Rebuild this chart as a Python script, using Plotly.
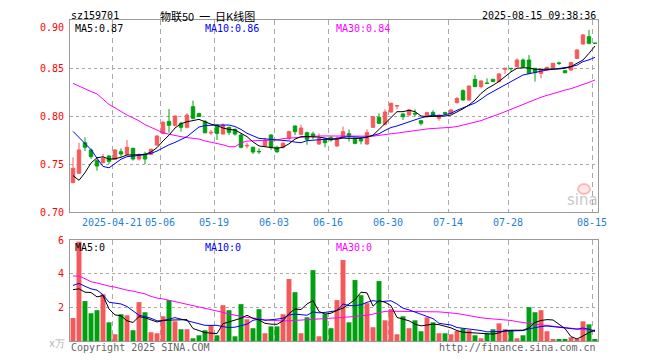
import pandas as pd
import plotly.graph_objects as go

# ---------------- data ----------------
holidays = ["2025-05-01", "2025-05-02", "2025-05-05", "2025-06-02"]
dates = [d.strftime("%Y-%m-%d") for d in pd.bdate_range("2025-04-10", "2025-08-15")
         if d.strftime("%Y-%m-%d") not in holidays]

open_ = [0.7306, 0.7403, 0.7722, 0.7646, 0.7535, 0.7514, 0.7583, 0.7549, 0.7628, 0.7601,
         0.7663, 0.7552, 0.7604, 0.7601, 0.7698, 0.7819, 0.7944, 0.7903, 0.7924, 0.7882,
         0.8097, 0.8025, 0.7944, 0.7823, 0.7906, 0.7812, 0.7882, 0.7861, 0.7802, 0.7688,
         0.7674, 0.7632, 0.7688, 0.7802, 0.7674, 0.7674, 0.7767, 0.7896, 0.7809, 0.7826,
         0.7813, 0.7708, 0.7760, 0.7774, 0.7688, 0.7778, 0.7816, 0.7767, 0.7757, 0.7708,
         0.7882, 0.7986, 0.7913, 0.8042, 0.8104, 0.8021, 0.8010, 0.8028, 0.7951, 0.7993,
         0.8038, 0.7976, 0.8035, 0.8028, 0.8139, 0.8264, 0.8167, 0.8382, 0.8306, 0.8342,
         0.8382, 0.8358, 0.8486, 0.8497, 0.8514, 0.8583, 0.8583, 0.8497, 0.8444, 0.8479,
         0.8497, 0.8552, 0.8472, 0.8479, 0.8600, 0.8750, 0.8826, 0.8758]
high = [0.7570, 0.7722, 0.7778, 0.7660, 0.7560, 0.7604, 0.7594, 0.7653, 0.7663, 0.7750,
        0.7670, 0.7610, 0.7628, 0.7660, 0.7799, 0.7951, 0.8073, 0.8003, 0.7940, 0.8030,
        0.8160, 0.8035, 0.7958, 0.7854, 0.7910, 0.7924, 0.7890, 0.7868, 0.7820, 0.7722,
        0.7680, 0.7663, 0.7774, 0.7810, 0.7690, 0.7733, 0.7847, 0.7900, 0.7910, 0.7837,
        0.7837, 0.7819, 0.7770, 0.7792, 0.7785, 0.7889, 0.7860, 0.7774, 0.7780, 0.7861,
        0.8000, 0.8028, 0.8070, 0.8140, 0.8108, 0.8028, 0.8070, 0.8069, 0.7955, 0.8045,
        0.8060, 0.8014, 0.8045, 0.8070, 0.8195, 0.8278, 0.8313, 0.8427, 0.8370, 0.8392,
        0.8385, 0.8445, 0.8497, 0.8497, 0.8600, 0.8600, 0.8635, 0.8500, 0.8490, 0.8510,
        0.8553, 0.8566, 0.8479, 0.8560, 0.8694, 0.8854, 0.8896, 0.8758]
low = [0.7300, 0.7399, 0.7635, 0.7555, 0.7431, 0.7507, 0.7500, 0.7542, 0.7576, 0.7594,
       0.7535, 0.7535, 0.7500, 0.7594, 0.7690, 0.7810, 0.7826, 0.7890, 0.7837, 0.7870,
       0.7965, 0.7990, 0.7819, 0.7802, 0.7750, 0.7810, 0.7800, 0.7795, 0.7663, 0.7663,
       0.7604, 0.7604, 0.7680, 0.7646, 0.7615, 0.7660, 0.7750, 0.7800, 0.7800, 0.7700,
       0.7757, 0.7700, 0.7674, 0.7733, 0.7680, 0.7770, 0.7733, 0.7705, 0.7705, 0.7700,
       0.7875, 0.7917, 0.7900, 0.8035, 0.8069, 0.7958, 0.8003, 0.7993, 0.7900, 0.7986,
       0.7993, 0.7951, 0.8021, 0.8021, 0.8130, 0.8160, 0.8160, 0.8300, 0.8288, 0.8340,
       0.8355, 0.8355, 0.8438, 0.8462, 0.8510, 0.8510, 0.8440, 0.8358, 0.8392, 0.8475,
       0.8490, 0.8531, 0.8444, 0.8469, 0.8595, 0.8745, 0.8747, 0.8757]
close = [0.7455, 0.7646, 0.7674, 0.7576, 0.7479, 0.7559, 0.7528, 0.7646, 0.7604, 0.7674,
         0.7552, 0.7594, 0.7552, 0.7653, 0.7792, 0.7934, 0.7903, 0.8000, 0.7882, 0.8010,
         0.7976, 0.7995, 0.7826, 0.7830, 0.7819, 0.7906, 0.7830, 0.7812, 0.7674, 0.7694,
         0.7625, 0.7628, 0.7750, 0.7674, 0.7628, 0.7715, 0.7837, 0.7837, 0.7875, 0.7757,
         0.7785, 0.7767, 0.7722, 0.7750, 0.7767, 0.7837, 0.7795, 0.7715, 0.7740, 0.7826,
         0.7993, 0.7924, 0.8042, 0.8132, 0.8108, 0.7993, 0.8063, 0.8021, 0.7924, 0.8035,
         0.8000, 0.8010, 0.8028, 0.8063, 0.8184, 0.8167, 0.8313, 0.8306, 0.8365, 0.8340,
         0.8358, 0.8438, 0.8497, 0.8494, 0.8583, 0.8514, 0.8444, 0.8451, 0.8486, 0.8507,
         0.8549, 0.8549, 0.8451, 0.8556, 0.8688, 0.8844, 0.8757, 0.8757]
volume = [1.37, 5.90, 2.37, 1.65, 1.83, 2.78, 1.11, 0.40, 1.59, 1.53,
          0.64, 2.31, 1.71, 0.52, 0.46, 1.47, 2.43, 1.17, 0.70, 0.70,
          0.16, 0.34, 0.64, 0.93, 0.34, 2.13, 1.83, 0.28, 2.19, 1.29,
          0.76, 1.89, 0.46, 0.87, 0.87, 1.59, 3.68, 2.90, 0.46, 1.41,
          4.21, 0.28, 1.59, 0.76, 2.43, 4.81, 1.11, 3.62, 2.72, 2.25,
          0.82, 3.56, 1.23, 1.89, 0.40, 1.47, 0.76, 1.23, 0.58, 1.41,
          1.11, 0.46, 0.46, 0.40, 0.60, 0.74, 0.64, 0.34, 0.16, 0.44,
          0.70, 1.05, 0.70, 0.64, 0.16, 0.34, 2.01, 1.71, 1.83, 0.58,
          0.10, 0.10, 0.10, 0.22, 0.10, 1.17, 0.99, 0.10]

ma5 = [0.738, 0.733, 0.741, 0.751, 0.7565, 0.7575, 0.755, 0.7555, 0.757, 0.7594,
       0.7594, 0.7594, 0.760, 0.7625, 0.767, 0.774, 0.780, 0.7875, 0.792, 0.794,
       0.7955, 0.7965, 0.794, 0.7915, 0.790, 0.7875, 0.786, 0.7854, 0.782, 0.7785,
       0.773, 0.7688, 0.768, 0.767, 0.7663, 0.7675, 0.771, 0.776, 0.7785, 0.7785,
       0.7785, 0.778, 0.777, 0.7757, 0.776, 0.777, 0.7767, 0.777, 0.7767, 0.778,
       0.780, 0.786, 0.792, 0.7985, 0.8045, 0.8045, 0.806, 0.8045, 0.800, 0.7993,
       0.7993, 0.7993, 0.800, 0.801, 0.804, 0.8075, 0.8115, 0.8165, 0.8235, 0.8285,
       0.832, 0.836, 0.841, 0.846, 0.8497, 0.8503, 0.850, 0.8486, 0.8486, 0.8486,
       0.8486, 0.849, 0.8497, 0.8514, 0.855, 0.8583, 0.8653, 0.8729]
ma10 = [0.784, 0.778, 0.772, 0.765, 0.756, 0.7475, 0.746, 0.751, 0.755, 0.7576,
        0.758, 0.759, 0.7598, 0.761, 0.7635, 0.767, 0.770, 0.7725, 0.7755, 0.7785,
        0.7835, 0.7885, 0.790, 0.7906, 0.7906, 0.7906, 0.7906, 0.789, 0.786, 0.782,
        0.779, 0.7767, 0.7762, 0.7757, 0.775, 0.7745, 0.774, 0.7728, 0.7722, 0.7743,
        0.775, 0.7755, 0.7757, 0.7757, 0.777, 0.778, 0.7785, 0.778, 0.7778, 0.778,
        0.780, 0.7815, 0.785, 0.788, 0.7896, 0.792, 0.794, 0.796, 0.798, 0.7995,
        0.801, 0.800, 0.8017, 0.8028, 0.806, 0.8085, 0.811, 0.8135, 0.8175, 0.822,
        0.8255, 0.829, 0.8325, 0.836, 0.840, 0.8427, 0.844, 0.8455, 0.847, 0.848,
        0.8486, 0.8495, 0.850, 0.8514, 0.853, 0.8566, 0.8585, 0.8611]
ma30 = [0.834, 0.831, 0.828, 0.8255, 0.823, 0.8175, 0.812, 0.8085, 0.8045, 0.801,
        0.798, 0.795, 0.791, 0.788, 0.785, 0.7825, 0.781, 0.7795, 0.7785, 0.7775,
        0.7767, 0.776, 0.774, 0.7728, 0.7715, 0.770, 0.768, 0.768, 0.772, 0.7738,
        0.7742, 0.7743, 0.7743, 0.7745, 0.775, 0.7765, 0.777, 0.7775, 0.778, 0.7785,
        0.7792, 0.7792, 0.7792, 0.7792, 0.7792, 0.7792, 0.7792, 0.7788, 0.7785, 0.7785,
        0.779, 0.7798, 0.781, 0.7815, 0.7822, 0.7832, 0.784, 0.7845, 0.7855, 0.7865,
        0.787, 0.7872, 0.7878, 0.7882, 0.789, 0.7905, 0.7918, 0.793, 0.7952, 0.7975,
        0.7995, 0.802, 0.8045, 0.807, 0.8095, 0.812, 0.8148, 0.8175, 0.8195, 0.8215,
        0.8235, 0.8255, 0.827, 0.8285, 0.8305, 0.8325, 0.835, 0.8375]

vma5 = [3.05, 3.1, 2.9, 2.88, 2.62, 2.7, 1.9, 1.55, 1.5, 1.2,
        1.1, 1.45, 1.38, 1.25, 1.13, 1.23, 1.23, 1.23, 1.25, 1.27,
        0.74, 0.6, 0.5, 0.47, 0.44, 1.03, 1.13, 1.22, 1.35, 1.53,
        1.35, 1.25, 1.05, 1.0, 0.99, 1.2, 1.63, 1.9, 1.87, 2.2,
        2.4, 1.75, 1.6, 1.65, 1.83, 1.95, 2.2, 2.45, 2.9, 2.86,
        2.07, 2.4, 2.3, 2.1, 1.4, 1.3, 1.2, 1.0, 0.9, 0.95,
        1.0, 0.97, 0.88, 0.78, 0.62, 0.52, 0.5, 0.48, 0.46, 0.42,
        0.41, 0.48, 0.62, 0.64, 0.64, 0.64, 0.78, 1.1, 1.22, 1.27,
        1.25, 1.0, 0.74, 0.26, 0.12, 0.3, 0.5, 0.64]
vma10 = [3.3, 3.42, 3.25, 3.1, 3.02, 2.75, 2.3, 2.23, 2.2, 2.05,
         1.8, 1.53, 1.45, 1.35, 1.2, 1.2, 1.3, 1.39, 1.3, 1.2,
         1.13, 1.0, 0.93, 0.93, 0.93, 0.85, 0.8, 0.82, 0.9, 1.0,
         1.23, 1.3, 1.23, 1.25, 1.3, 1.35, 1.55, 1.6, 1.55, 1.53,
         1.73, 1.67, 1.7, 1.75, 1.8, 2.2, 2.1, 2.1, 2.15, 2.3,
         2.4, 2.33, 2.37, 2.39, 2.2, 1.95, 1.85, 1.73, 1.6, 1.45,
         1.33, 1.05, 1.0, 0.95, 0.8, 0.76, 0.73, 0.7, 0.62, 0.54,
         0.55, 0.57, 0.58, 0.59, 0.6, 0.62, 0.72, 0.8, 0.86, 0.89,
         0.85, 0.82, 0.78, 0.72, 0.70, 0.77, 0.7, 0.56]
vma30 = [3.86, 3.86, 3.7, 3.52, 3.45, 3.35, 3.26, 3.2, 3.1, 3.02,
         2.96, 2.88, 2.8, 2.65, 2.55, 2.5, 2.42, 2.35, 2.28, 2.2,
         2.13, 2.06, 1.98, 1.9, 1.8, 1.7, 1.6, 1.52, 1.45, 1.4,
         1.36, 1.33, 1.25, 1.22, 1.2, 1.19, 1.2, 1.22, 1.24, 1.25,
         1.27, 1.28, 1.3, 1.33, 1.36, 1.4, 1.43, 1.46, 1.5, 1.53,
         1.6, 1.7, 1.76, 1.77, 1.77, 1.77, 1.77, 1.77, 1.76, 1.75,
         1.73, 1.73, 1.70, 1.68, 1.63, 1.57, 1.5, 1.43, 1.38, 1.34,
         1.32, 1.3, 1.27, 1.22, 1.15, 1.08, 1.05, 1.0, 0.96, 0.92,
         0.85, 0.8, 0.76, 0.72, 0.7, 0.68, 0.66, 0.64]

tick_dates = ["2025-04-21", "2025-05-06", "2025-05-19", "2025-06-03", "2025-06-16",
              "2025-06-30", "2025-07-14", "2025-07-28", "2025-08-15"]
tick_text = ["2025-04-21", "05-06", "05-19", "06-03", "06-16", "06-30", "07-14", "07-28", "08-15"]
price_ticks = [0.70, 0.75, 0.80, 0.85, 0.90]
vol_ticks = [2, 4, 6]

title_code = "sz159701"
title_name = "物联50\u00a0\u00a0一\u00a0\u00a0日K线图"
timestamp = "2025-08-15 09:38:36"

# ---------------- figure ----------------
UP = "#f55a5a"
DOWN = "#00a010"
MONO = "DejaVu Sans Mono"
PAGE_PAD = 8                      # default body margin of the html page
W, H = 660 - PAGE_PAD, 360 - PAGE_PAD
L, T = 70 - PAGE_PAD, 20 - PAGE_PAD
PW, PH = 528, 321
R, B = W - L - PW, H - T - PH
SX0, SY1 = 70, 20 + PH            # plot area in screenshot pixels

def px(xpix):
    return (xpix - SX0) / PW

def py(ypix):
    return (SY1 - ypix) / PH

idx = list(range(len(dates)))
tickvals = [dates.index(d) - 0.5 for d in tick_dates]
vol_colors = [UP if c > o else DOWN for o, c in zip(open_, close)]

fig = go.Figure()
fig.add_trace(go.Candlestick(
    x=idx, open=open_, high=high, low=low, close=close,
    increasing=dict(line=dict(color=UP, width=1), fillcolor=UP),
    decreasing=dict(line=dict(color=DOWN, width=1), fillcolor=DOWN),
    whiskerwidth=0, xaxis="x", yaxis="y", showlegend=False, hoverinfo="skip"))
for vals, col in [(ma30, "#ff00ff"), (ma10, "#0000ff"), (ma5, "#000000")]:
    fig.add_trace(go.Scatter(x=idx, y=vals, mode="lines", line=dict(color=col, width=1),
                             xaxis="x", yaxis="y", showlegend=False, hoverinfo="skip"))

fig.add_trace(go.Bar(x=idx, y=volume, marker=dict(color=vol_colors, line=dict(width=0)),
                     width=0.82, xaxis="x2", yaxis="y2", showlegend=False, hoverinfo="skip"))
for vals, col in [(vma30, "#ff00ff"), (vma10, "#0000ff"), (vma5, "#000000")]:
    fig.add_trace(go.Scatter(x=idx, y=vals, mode="lines", line=dict(color=col, width=1),
                             xaxis="x2", yaxis="y2", showlegend=False, hoverinfo="skip"))

price_top, price_bot = 20, 212
vol_top = 240

xcommon = dict(range=[-0.5, len(dates) - 0.5], tickmode="array", tickvals=tickvals,
               showgrid=True, gridcolor="#aaaaaa", griddash="5px,4px", gridwidth=1,
               showline=True, mirror=True, linecolor="#999999", linewidth=1,
               zeroline=False, fixedrange=True)

fig.update_layout(
    width=W, height=H,
    margin=dict(l=L, r=R, t=T, b=B, autoexpand=False),
    paper_bgcolor="white", plot_bgcolor="white",
    boxgap=0.18,
    showlegend=False,
    xaxis=dict(**xcommon, domain=[0, 1], anchor="y", ticktext=tick_text,
               tickfont=dict(family=MONO, size=10, color="#1f7fd6"),
               ticks="outside", ticklen=1, tickcolor="rgba(0,0,0,0)",
               rangeslider=dict(visible=False)),
    yaxis=dict(domain=[py(price_bot), py(price_top)], range=[0.70, 0.90], anchor="x",
               tickmode="array", tickvals=price_ticks,
               ticktext=["" if v == 0.90 else f"{v:.2f}" for v in price_ticks],
               tickfont=dict(family=MONO, size=10, color="#ff0000"),
               ticks="outside", ticklen=3, tickcolor="rgba(0,0,0,0)",
               showgrid=True, gridcolor="#aaaaaa", griddash="dot", gridwidth=1,
               showline=True, mirror=True, linecolor="#999999", linewidth=1,
               zeroline=False, fixedrange=True),
    xaxis2=dict(**xcommon, domain=[0, 1], anchor="y2", ticktext=["" for _ in tick_text],
                showticklabels=False),
    yaxis2=dict(domain=[0, py(vol_top)], range=[0, 6], anchor="x2",
                tickmode="array", tickvals=vol_ticks, ticktext=[str(v) for v in vol_ticks],
                tickfont=dict(family=MONO, size=10, color="#ff0000"),
                ticks="outside", ticklen=3, tickcolor="rgba(0,0,0,0)",
                showgrid=True, gridcolor="#aaaaaa", griddash="dot", gridwidth=1,
                showline=True, mirror=True, linecolor="#999999", linewidth=1,
                zeroline=False, fixedrange=True),
)

def note(text, xpix, ypix, anchor="left", color="#000000", size=10, family=MONO, **kw):
    fig.add_annotation(text=text, x=px(xpix), y=py(ypix), xref="paper", yref="paper",
                       xanchor=anchor, yanchor="middle", showarrow=False,
                       font=dict(family=family, size=size, color=color), **kw)

note(f"{price_ticks[-1]:.2f}", 66, 27, anchor="right", color="#ff0000")

note(title_code, 69, 15)
note(title_name, 207, 15.5, anchor="center", size=11, family="Noto Sans CJK SC")
note(timestamp, 598, 15, anchor="right")

note(f"MA5:{ma5[-1]:.2f}", 73, 28)
note(f"MA10:{ma10[-1]:.2f}", 203, 28, color="#0000ff")
note(f"MA30:{ma30[-1]:.2f}", 334, 28, color="#ff00ff")

note("MA5:0", 73, 247)
note("MA10:0", 203, 247, color="#0000ff")
note("MA30:0", 334, 247, color="#ff00ff")

note("x万", 67, 343, anchor="right", color="#b0b0b0")
note("Copyright 2025 SINA.COM", 69, 347, color="#666666")
note("http://finance.sina.com.cn", 598, 347, anchor="right", color="#666666")

# sina watermark
fig.add_shape(type="circle", xref="paper", yref="paper",
              x0=px(578), x1=px(590), y0=py(194), y1=py(184),
              line=dict(color="rgba(240,120,120,0.45)", width=2),
              fillcolor="rgba(250,190,190,0.35)")
note("sina", 582, 200, anchor="center", color="rgba(150,150,150,0.55)", size=15,
     family="DejaVu Sans")

fig.write_html("out.html")
